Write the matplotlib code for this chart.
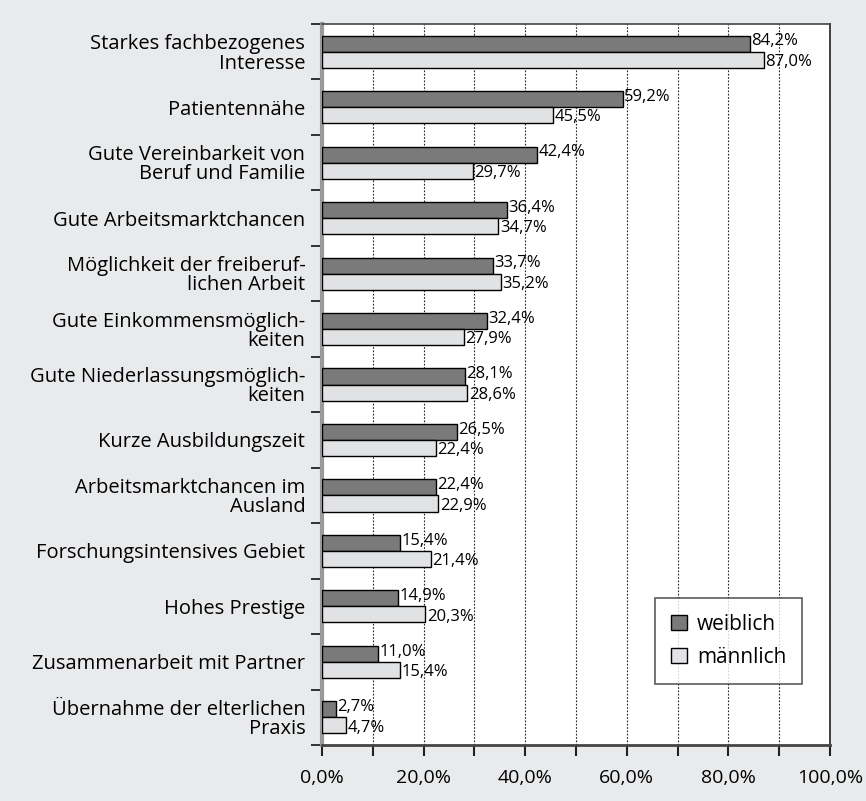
import matplotlib.pyplot as plt
from matplotlib.ticker import MultipleLocator, FuncFormatter
from matplotlib.patches import Patch

plt.rcParams['font.family'] = ['Open Sans', 'DejaVu Sans']

categories = [
    "Starkes fachbezogenes\nInteresse",
    "Patientennähe",
    "Gute Vereinbarkeit von\nBeruf und Familie",
    "Gute Arbeitsmarktchancen",
    "Möglichkeit der freiberuf-\nlichen Arbeit",
    "Gute Einkommensmöglich-\nkeiten",
    "Gute Niederlassungsmöglich-\nkeiten",
    "Kurze Ausbildungszeit",
    "Arbeitsmarktchancen im\nAusland",
    "Forschungsintensives Gebiet",
    "Hohes Prestige",
    "Zusammenarbeit mit Partner",
    "Übernahme der elterlichen\nPraxis",
]
weiblich = [84.2, 59.2, 42.4, 36.4, 33.7, 32.4, 28.1, 26.5, 22.4, 15.4, 14.9, 11.0, 2.7]
maennlich = [87.0, 45.5, 29.7, 34.7, 35.2, 27.9, 28.6, 22.4, 22.9, 21.4, 20.3, 15.4, 4.7]

bg = '#e9eaec'
dark = '#7a7a7a'
light = '#e1e2e4'

def pct(v):
    return f"{v:.1f}%".replace('.', ',')

fig = plt.figure(figsize=(8.66, 8.01), dpi=100, facecolor=bg)
ax = fig.add_axes([0.3718, 0.0699, 0.5866, 0.9001])
ax.set_facecolor('white')

h = 0.29
y = list(range(len(categories)))
yw = [i - h / 2 for i in y]
ym = [i + h / 2 for i in y]
ax.barh(yw, weiblich, height=h, color=dark, edgecolor='black', linewidth=1, zorder=3, label='weiblich')
ax.barh(ym, maennlich, height=h, color=light, edgecolor='black', linewidth=1, zorder=3, label='männlich')

for yy, v in zip(yw, weiblich):
    ax.text(v + 0.3, yy - 0.04, pct(v), va='center', ha='left', fontsize=12, zorder=4)
for yy, v in zip(ym, maennlich):
    ax.text(v + 0.3, yy + 0.04, pct(v), va='center', ha='left', fontsize=12, zorder=4)

ax.set_xlim(0, 100)
ax.set_ylim(len(categories) - 0.5, -0.5)

ax.xaxis.set_major_locator(MultipleLocator(20))
ax.xaxis.set_minor_locator(MultipleLocator(10))
ax.xaxis.set_major_formatter(FuncFormatter(lambda v, p: pct(v)))
ax.tick_params(axis='x', which='both', length=8, width=1.5, color='#222222', pad=9)
ax.tick_params(axis='x', which='major', labelsize=14)
ax.grid(axis='x', which='both', linestyle=(0, (1.5, 1.5)), color='#222222', linewidth=0.8, zorder=1)

ax.set_yticks([i - 0.5 for i in range(len(categories) + 1)])
ax.set_yticklabels([])
ax.set_yticks(y, minor=True)
ax.set_yticklabels(categories, minor=True, fontsize=14.5, linespacing=0.95)
ax.tick_params(axis='y', which='major', length=8, width=1.3, color='#222222')
ax.tick_params(axis='y', which='minor', length=0, pad=12)

ax.spines['left'].set_color('#999999')
ax.spines['left'].set_linewidth(3)
ax.spines['bottom'].set_color('#444444')
ax.spines['bottom'].set_linewidth(2)
ax.spines['top'].set_color('#444444')
ax.spines['top'].set_linewidth(1.2)
ax.spines['right'].set_color('#222222')
ax.spines['right'].set_linewidth(1.2)

handles = [Patch(facecolor=dark, edgecolor='black', label='weiblich'),
           Patch(facecolor=light, edgecolor='black', label='männlich')]
leg = ax.legend(handles=handles, loc='lower right', bbox_to_anchor=(0.945, 0.085),
                borderaxespad=0, fontsize=15, frameon=True, fancybox=False,
                handlelength=0.75, handleheight=0.75, handletextpad=0.5,
                borderpad=0.75, labelspacing=0.6)
leg.get_frame().set_edgecolor('#333333')
leg.get_frame().set_linewidth(1.2)

plt.savefig("out.png", dpi=100, facecolor=bg)
